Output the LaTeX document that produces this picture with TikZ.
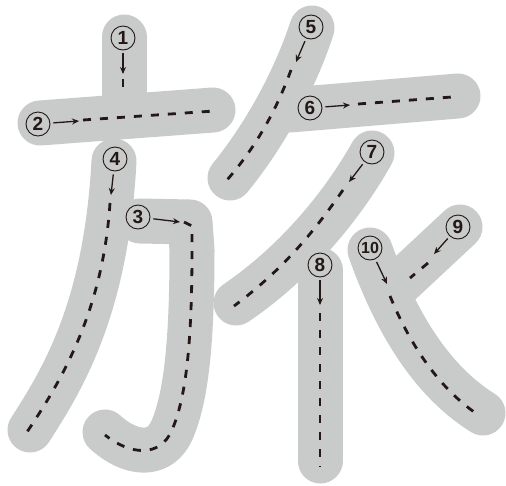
\documentclass[tikz,border=0pt]{standalone}
\usepackage{fontspec}
\setsansfont{Liberation Sans}
\usetikzlibrary{arrows.meta}
\definecolor{brushgray}{RGB}{201,202,202}
\definecolor{inkdark}{RGB}{35,24,21}
\begin{document}
\begin{tikzpicture}[x=1pt,y=-1pt,>={Stealth[length=7pt,width=6pt]},
  brush/.style={line width=45pt,brushgray,line cap=round,line join=round},
  guide/.style={line width=2.8pt,inkdark,dash pattern=on 8pt off 9pt},
  num/.style={draw=inkdark,circle,line width=0.9pt,minimum size=24pt,inner sep=0pt,
    text=inkdark,font=\sffamily\bfseries\fontsize{19}{19}\selectfont},
  pointer/.style={->,line width=1.3pt,inkdark,shorten <=3pt}]
  \useasboundingbox (0,0) rectangle (506,485);
  % gray strokes
  \draw[brush] (124,37) -- (124,115);
  \draw[brush] (40,123) -- (213,110);
  \draw[brush] (140,221) -- (190,222) -- (192,250) .. controls (192,350) and (185,400) .. (172,430)
    .. controls (160,458) and (130,455) .. (105,432);
  \draw[brush] (114,161) .. controls (106,310) and (62,380) .. (30,430);
  \draw[brush] (312,28) .. controls (295,80) and (265,135) .. (230,178);
  \draw[brush] (290,110) -- (458,96);
  \draw[brush] (372,153) .. controls (340,210) and (292,265) .. (236,303);
  \draw[brush] (320,270) -- (320,461);
  \draw[brush] (460,227) -- (400,283);
  \draw[brush] (370,250) .. controls (395,320) and (430,380) .. (483,413);
  % dashed guides
  \draw[guide] (123,79) -- (123,90);
  \draw[guide] (83,120) -- (214,111);
  \draw[guide] (184,222) -- (192,226) -- (192,250) .. controls (192,350) and (185,400) .. (172,430)
    .. controls (160,458) and (130,455) .. (105,435);
  \draw[guide] (110,203) .. controls (103,310) and (62,380) .. (27,432);
  \draw[guide] (291,70) .. controls (280,100) and (262,140) .. (227,180);
  \draw[guide] (358,104) -- (452,97);
  \draw[guide] (343,190) .. controls (315,230) and (285,268) .. (234,306);
  \draw[guide] (320,313) -- (320,467);
  \draw[guide] (428,263) -- (410,278);
  \draw[guide] (390,296) .. controls (410,345) and (440,390) .. (480,416);
  % numbers
  \node[num] (n1) at (123,38) {1};
  \node[num] (n2) at (38,124) {2};
  \node[num] (n3) at (138,217) {3};
  \node[num] (n4) at (115,159) {4};
  \node[num] (n5) at (311,27) {5};
  \node[num] (n6) at (310,108) {6};
  \node[num] (n7) at (372,152) {7};
  \node[num] (n8) at (320,265) {8};
  \node[num] (n9) at (458,227) {9};
  \node[num,font=\sffamily\bfseries\fontsize{16}{16}\selectfont] (n10) at (370,248) {10};
  \coordinate (a1) at (123,74);
  \coordinate (a2) at (79,121);
  \coordinate (a3) at (180,222);
  \coordinate (a4) at (111,195);
  \coordinate (a5) at (296,62);
  \coordinate (a6) at (350,105);
  \coordinate (a7) at (349,182);
  \coordinate (a8) at (320,305);
  \coordinate (a9) at (434,254);
  \coordinate (a10) at (387,284);
  \foreach \i in {1,...,10}
    \draw[pointer] (n\i) -- (a\i);
\end{tikzpicture}
\end{document}
